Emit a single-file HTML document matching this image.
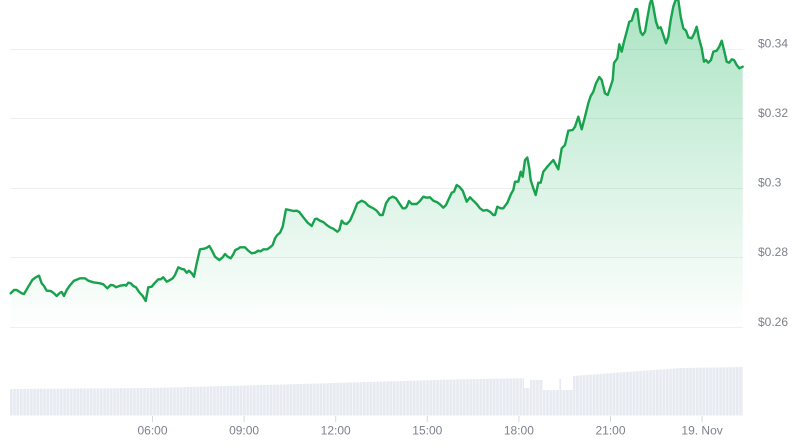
<!DOCTYPE html>
<html><head><meta charset="utf-8"><style>
html,body{margin:0;padding:0;background:#fff;}
svg{display:block;font-family:"Liberation Sans",sans-serif;}
.yl{font-size:12px;fill:#7d828c;}
.xl{font-size:12px;fill:#7d828c;text-anchor:middle;}
</style></head><body>
<svg width="800" height="445" viewBox="0 0 800 445" xmlns="http://www.w3.org/2000/svg">
<defs>
<linearGradient id="g" gradientUnits="userSpaceOnUse" x1="0" y1="0" x2="0" y2="330">
<stop offset="0" stop-color="#16b35a" stop-opacity="0.36"/>
<stop offset="0.6" stop-color="#16b35a" stop-opacity="0.14"/>
<stop offset="1" stop-color="#16b35a" stop-opacity="0"/>
</linearGradient>
<pattern id="bars" patternUnits="userSpaceOnUse" x="10" y="0" width="3.33" height="445">
<rect x="0" y="0" width="3.33" height="445" fill="#e7ebf1"/>
<rect x="2.6" y="0" width="0.73" height="445" fill="#f8f9fb"/>
</pattern>
</defs>
<g stroke="#efefef" stroke-width="1">
<line x1="10" y1="49.5" x2="743" y2="49.5"/>
<line x1="10" y1="118.5" x2="743" y2="118.5"/>
<line x1="10" y1="188.5" x2="743" y2="188.5"/>
<line x1="10" y1="257.5" x2="743" y2="257.5"/>
<line x1="10" y1="327.5" x2="743" y2="327.5"/>
</g>
<polygon fill="url(#bars)" points="10,415.5 10,389 150,388 300,384 450,379.5 524,378.3 524,388 530,388 530,380 543,380 543,390 559,390 559,379 561,379 561,390 573,390 573,376 680,368 743,367 743,415.5"/>
<g stroke="#d6d9de" stroke-width="1">
<line x1="152.5" y1="416" x2="152.5" y2="422"/>
<line x1="244.1" y1="416" x2="244.1" y2="422"/>
<line x1="335.7" y1="416" x2="335.7" y2="422"/>
<line x1="427.3" y1="416" x2="427.3" y2="422"/>
<line x1="518.9" y1="416" x2="518.9" y2="422"/>
<line x1="610.5" y1="416" x2="610.5" y2="422"/>
<line x1="702.1" y1="416" x2="702.1" y2="422"/>
</g>
<path fill="url(#g)" stroke="none" d="M10.7,328 L10.7,293.3 14,290 16.7,290 21.7,293.3 24,294 28.3,286.7 32.3,280 35.7,277.3 39,275.7 41.7,283.3 44,286 46.7,290.7 50.7,291 53.3,292.7 56.7,296 60,292.7 61.7,292 64,296 66.7,290 70,285.3 74,280.7 78.3,279 80,278.3 85,278.3 88.3,280.7 93.3,282.3 100,283.3 103.3,284.3 107.3,288.3 110.7,285 113.3,285.3 116,287.3 120,285.7 125,285 126,285.7 128.3,282.7 130.7,283.3 133.3,286 136,287.3 139.3,292.3 142.7,296 145.7,301 148.3,287.3 151.7,286.7 155,282.7 158.3,279.3 160.7,279.3 163.3,277.3 166.7,281.7 170,280 172.7,278.3 175,275 178.3,267.3 181.7,269 184,269.3 186.7,272.7 189,270.7 191.7,273.3 194,276.7 196.7,263.3 200,249.3 204,248.7 206.7,247.7 209.3,246 211.7,250 215,256.7 219.3,260 222.7,257.3 225,254 227.7,256.7 230.7,258.3 233.3,254.3 235.3,250 238.3,248.7 240,247.3 245,247.3 248.3,250.7 251.7,253.3 255,252.7 258.3,250.7 260.7,251.3 263.3,249.3 267.3,249.3 270,247.3 272.7,245 275,238.3 277.3,235 280,232.7 282.7,226.7 286,209.3 289.3,210 293.3,211 296.7,210.7 299.3,212 303.3,217.3 307.7,222.7 311.7,226 315,219 316.7,218.7 320,220.7 323.3,222 326.7,225 330,227.3 333.3,228.7 337.3,231.7 339.3,230 341.7,220.7 344,223.3 346.7,224 350,220.7 353.3,213.3 357.3,203.3 361.7,200.7 365,202.3 368.3,205.7 370,206.7 373.3,208.3 376.7,210.7 380,215 382.7,215 386,203.3 389.3,198.3 392.7,196.7 396,198.3 399.3,203.3 402.7,208.3 405,208.3 406.7,206.7 409,201 411.7,204 416.7,204 420,201 423.3,196.7 426.7,197.7 430,197.3 433.3,200.7 437.3,202.3 440,204.3 443.3,207.7 446,205 448.3,200 451.7,192.7 454,191.7 456.7,185 459.3,186.7 462.7,190.7 466.7,201.7 470,197.3 473.3,200.7 476.7,204 480,208.3 483.3,210.7 486.7,210 490,211.7 493.3,215 495,215 497.3,206.7 500.7,208.3 503.3,208.3 507.5,202.5 511,194 513.3,190 515,181.7 518.3,181.7 520.7,171.7 522.7,176.7 525,160 527.3,157.5 529.3,168.3 530.7,180 533.3,188.3 535.7,195 538.3,182.7 540.7,182.7 543.3,171.7 547.3,166.7 553.3,160 558.3,169.3 561.7,148.3 565,145 568.3,130.7 572.7,130 575,126.7 578.3,116.7 581.7,129.3 585,116.7 588.3,103.3 590.7,96 593.3,91.7 596,83.3 599.3,77 601.7,80 605,93.3 607.7,95 610,88.3 612.7,80 614,63 617.3,58.3 619.3,44.3 621.7,51.7 624,41.7 626.7,31.7 629.3,21.7 631.7,20.7 634,13.3 635.7,9 637.3,9.3 639.3,25 640.7,32.3 642.7,35 645,31.7 647.3,18.3 650,3.3 651.7,-1 653.3,6.7 656,21.7 658.3,28.3 660.7,27.3 663.3,35 666,43.3 668.3,36.7 670.7,20 673.3,6.7 676,-1 678.3,0 680.7,16.7 683.3,28.3 686,30.7 688.3,37.3 691.7,38.3 694.3,33.3 696.7,26.7 699,38.3 701.7,48.3 704,61.7 706,60 708.3,62.7 711,60 713.3,51.7 716.7,50.7 719.3,46.7 721.7,40.7 724,50 726.7,61.7 729.3,62.7 731.7,59.3 734,60 736.7,65 739.3,68.3 742.7,66.7 L742.7,328 Z"/>
<path fill="none" stroke="#19a24e" stroke-width="2.4" stroke-linejoin="round" stroke-linecap="round" d="M10.7,293.3 14,290 16.7,290 21.7,293.3 24,294 28.3,286.7 32.3,280 35.7,277.3 39,275.7 41.7,283.3 44,286 46.7,290.7 50.7,291 53.3,292.7 56.7,296 60,292.7 61.7,292 64,296 66.7,290 70,285.3 74,280.7 78.3,279 80,278.3 85,278.3 88.3,280.7 93.3,282.3 100,283.3 103.3,284.3 107.3,288.3 110.7,285 113.3,285.3 116,287.3 120,285.7 125,285 126,285.7 128.3,282.7 130.7,283.3 133.3,286 136,287.3 139.3,292.3 142.7,296 145.7,301 148.3,287.3 151.7,286.7 155,282.7 158.3,279.3 160.7,279.3 163.3,277.3 166.7,281.7 170,280 172.7,278.3 175,275 178.3,267.3 181.7,269 184,269.3 186.7,272.7 189,270.7 191.7,273.3 194,276.7 196.7,263.3 200,249.3 204,248.7 206.7,247.7 209.3,246 211.7,250 215,256.7 219.3,260 222.7,257.3 225,254 227.7,256.7 230.7,258.3 233.3,254.3 235.3,250 238.3,248.7 240,247.3 245,247.3 248.3,250.7 251.7,253.3 255,252.7 258.3,250.7 260.7,251.3 263.3,249.3 267.3,249.3 270,247.3 272.7,245 275,238.3 277.3,235 280,232.7 282.7,226.7 286,209.3 289.3,210 293.3,211 296.7,210.7 299.3,212 303.3,217.3 307.7,222.7 311.7,226 315,219 316.7,218.7 320,220.7 323.3,222 326.7,225 330,227.3 333.3,228.7 337.3,231.7 339.3,230 341.7,220.7 344,223.3 346.7,224 350,220.7 353.3,213.3 357.3,203.3 361.7,200.7 365,202.3 368.3,205.7 370,206.7 373.3,208.3 376.7,210.7 380,215 382.7,215 386,203.3 389.3,198.3 392.7,196.7 396,198.3 399.3,203.3 402.7,208.3 405,208.3 406.7,206.7 409,201 411.7,204 416.7,204 420,201 423.3,196.7 426.7,197.7 430,197.3 433.3,200.7 437.3,202.3 440,204.3 443.3,207.7 446,205 448.3,200 451.7,192.7 454,191.7 456.7,185 459.3,186.7 462.7,190.7 466.7,201.7 470,197.3 473.3,200.7 476.7,204 480,208.3 483.3,210.7 486.7,210 490,211.7 493.3,215 495,215 497.3,206.7 500.7,208.3 503.3,208.3 507.5,202.5 511,194 513.3,190 515,181.7 518.3,181.7 520.7,171.7 522.7,176.7 525,160 527.3,157.5 529.3,168.3 530.7,180 533.3,188.3 535.7,195 538.3,182.7 540.7,182.7 543.3,171.7 547.3,166.7 553.3,160 558.3,169.3 561.7,148.3 565,145 568.3,130.7 572.7,130 575,126.7 578.3,116.7 581.7,129.3 585,116.7 588.3,103.3 590.7,96 593.3,91.7 596,83.3 599.3,77 601.7,80 605,93.3 607.7,95 610,88.3 612.7,80 614,63 617.3,58.3 619.3,44.3 621.7,51.7 624,41.7 626.7,31.7 629.3,21.7 631.7,20.7 634,13.3 635.7,9 637.3,9.3 639.3,25 640.7,32.3 642.7,35 645,31.7 647.3,18.3 650,3.3 651.7,-1 653.3,6.7 656,21.7 658.3,28.3 660.7,27.3 663.3,35 666,43.3 668.3,36.7 670.7,20 673.3,6.7 676,-1 678.3,0 680.7,16.7 683.3,28.3 686,30.7 688.3,37.3 691.7,38.3 694.3,33.3 696.7,26.7 699,38.3 701.7,48.3 704,61.7 706,60 708.3,62.7 711,60 713.3,51.7 716.7,50.7 719.3,46.7 721.7,40.7 724,50 726.7,61.7 729.3,62.7 731.7,59.3 734,60 736.7,65 739.3,68.3 742.7,66.7"/>
<text class="yl" x="758" y="47.3">$0.34</text>
<text class="yl" x="758" y="116.8">$0.32</text>
<text class="yl" x="758" y="186.5">$0.3</text>
<text class="yl" x="758" y="256">$0.28</text>
<text class="yl" x="758" y="325.8">$0.26</text>
<text class="xl" x="152.5" y="434.5">06:00</text>
<text class="xl" x="244.1" y="434.5">09:00</text>
<text class="xl" x="335.7" y="434.5">12:00</text>
<text class="xl" x="427.3" y="434.5">15:00</text>
<text class="xl" x="518.9" y="434.5">18:00</text>
<text class="xl" x="610.5" y="434.5">21:00</text>
<text class="xl" x="702.1" y="434.5">19. Nov</text>
</svg>
</body></html>
